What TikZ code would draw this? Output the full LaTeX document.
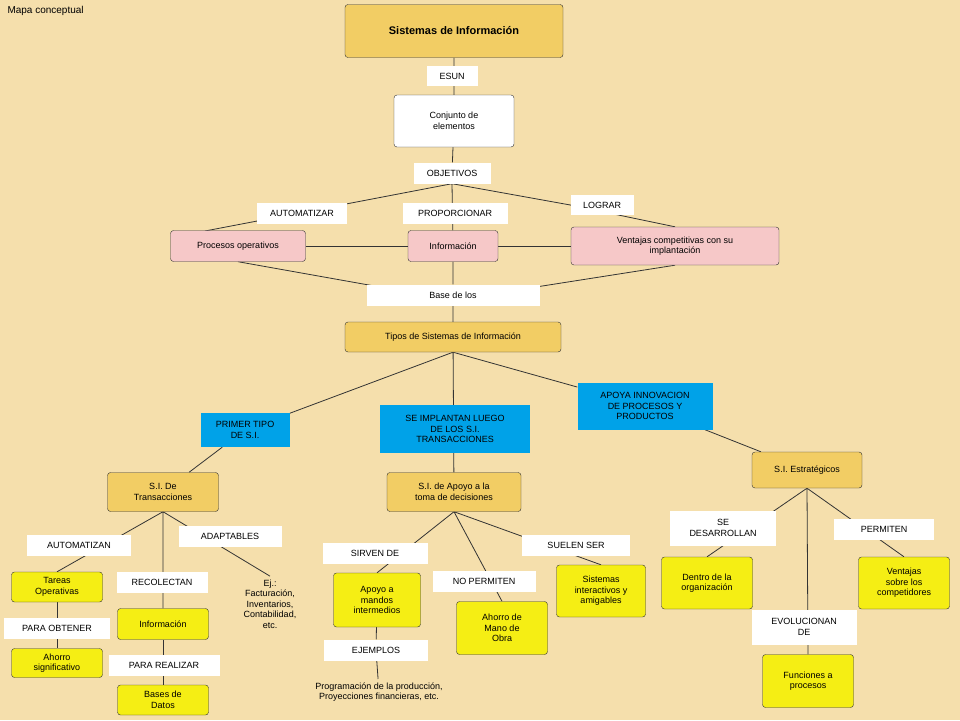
\documentclass[tikz,border=0pt]{standalone}
\usepackage{fontspec}
\setmainfont{Liberation Sans}
\pgfdeclarelayer{bg}\pgfsetlayers{bg,main}
\definecolor{bgc}{RGB}{245,223,172}
\definecolor{gold}{RGB}{242,205,100}
\definecolor{pinkc}{RGB}{246,200,200}
\definecolor{bluec}{RGB}{0,162,232}
\definecolor{yel}{RGB}{245,238,20}
\begin{document}
\begin{tikzpicture}[x=1pt,y=-1pt,font=\fontsize{9}{10.5}\selectfont,
 box/.style={draw=black!80,rounded corners=3pt,align=center,inner sep=2pt},
 g/.style={box,fill=gold},
 p/.style={box,fill=pinkc},
 yb/.style={box,fill=yel},
 w/.style={box,fill=white},
 lab/.style={fill=white,align=center,inner sep=1pt},
 bl/.style={fill=bluec,align=center,inner sep=1pt},
 ln/.style={draw=black!80,line width=0.8pt}]
\begin{pgfonlayer}{bg}
\fill[bgc] (0,0) rectangle (960,720);
\end{pgfonlayer}
\node[anchor=north west] (mc) at (4,3) {\fontsize{10}{12}\selectfont Mapa conceptual};
\node[g,minimum width=218,minimum height=53,font=\fontsize{11}{13}\selectfont\bfseries] (t) at (454,31) {Sistemas de Información};
\node[lab,minimum width=51,minimum height=20] (esun) at (452,76) {ESUN};
\node[w,minimum width=120,minimum height=52] (conj) at (454,121) {Conjunto de\\elementos};
\node[lab,minimum width=77,minimum height=21] (obj) at (452,173) {OBJETIVOS};
\node[p,minimum width=135,minimum height=31] (po) at (238,246) {Procesos operativos};
\node[p,minimum width=90,minimum height=31] (inf) at (453,246) {Información};
\node[p,minimum width=208,minimum height=38] (ven) at (675,246) {Ventajas competitivas con su\\implantación};
\node[lab,minimum width=173,minimum height=21] (base) at (453,295) {Base de los};
\node[g,minimum width=216,minimum height=30] (tipos) at (453,337) {Tipos de Sistemas de Información};
\node[g,minimum width=111,minimum height=39] (tr) at (163,492) {S.I. De\\Transacciones};
\node[g,minimum width=134,minimum height=39] (ap) at (454,492) {S.I. de Apoyo a la\\toma de decisiones};
\node[g,minimum width=110,minimum height=36] (es) at (807,470) {S.I. Estratégicos};
\node[yb,minimum width=91,minimum height=30] (tar) at (57,587) {Tareas\\Operativas};
\node[yb,minimum width=91,minimum height=29] (aho) at (57,663) {Ahorro\\significativo};
\node[yb,minimum width=91,minimum height=31] (inf2) at (163,624) {Información};
\node[yb,minimum width=91,minimum height=30] (bd) at (163,700) {Bases de\\Datos};
\node[align=center] (ej) at (270,604) {Ej.:\\Facturación,\\Inventarios,\\Contabilidad,\\etc.};
\node[yb,minimum width=87,minimum height=54] (man) at (377,600) {Apoyo a\\mandos\\intermedios};
\node[yb,minimum width=91,minimum height=53] (amo) at (502,628) {Ahorro de\\Mano de\\Obra};
\node[yb,minimum width=89,minimum height=52] (sis) at (601,591) {Sistemas\\interactivos y\\amigables};
\node[align=center] (prog) at (379,692) {Programación de la producción,\\Proyecciones financieras, etc.};
\node[yb,minimum width=91,minimum height=52] (den) at (707,583) {Dentro de la\\organización};
\node[yb,minimum width=91,minimum height=52] (vsc) at (904,583) {Ventajas\\sobre los\\competidores};
\node[yb,minimum width=91,minimum height=53] (fun) at (808,681) {Funciones a\\procesos};
% labels
\node[lab,minimum width=90,minimum height=21] (aut) at (302,213) {AUTOMATIZAR};
\node[lab,minimum width=105,minimum height=21] (prop) at (455,213) {PROPORCIONAR};
\node[lab,minimum width=63,minimum height=20] (log) at (602,205) {LOGRAR};
\node[bl,minimum width=89,minimum height=34] (pt) at (245,430) {PRIMER TIPO\\DE S.I.};
\node[bl,minimum width=150,minimum height=48] (si) at (455,429) {SE IMPLANTAN LUEGO\\DE LOS S.I.\\TRANSACCIONES};
\node[bl,minimum width=135,minimum height=47] (apy) at (645,406) {APOYA INNOVACION\\DE PROCESOS Y\\PRODUCTOS};
\node[lab,minimum width=104,minimum height=21] (autn) at (79,545) {AUTOMATIZAN};
\node[lab,minimum width=103,minimum height=21] (adap) at (230,536) {ADAPTABLES};
\node[lab,minimum width=91,minimum height=21] (rec) at (162,582) {RECOLECTAN};
\node[lab,minimum width=106,minimum height=21] (pob) at (57,628) {PARA OBTENER};
\node[lab,minimum width=111,minimum height=21] (prea) at (164,665) {PARA REALIZAR};
\node[lab,minimum width=105,minimum height=21] (sir) at (375,553) {SIRVEN DE};
\node[lab,minimum width=103,minimum height=21] (nop) at (484,581) {NO PERMITEN};
\node[lab,minimum width=108,minimum height=21] (sue) at (576,545) {SUELEN SER};
\node[lab,minimum width=104,minimum height=21] (ejm) at (376,650) {EJEMPLOS};
\node[lab,minimum width=106,minimum height=35] (sed) at (723,528) {SE\\DESARROLLAN};
\node[lab,minimum width=100,minimum height=21] (per) at (884,529) {PERMITEN};
\node[lab,minimum width=105,minimum height=35] (evo) at (804,627) {EVOLUCIONAN\\DE};
\coordinate (mid) at (453,300);
\coordinate (poj) at (205,231);
\begin{pgfonlayer}{bg}
\path[ln] (t)--(conj) (conj)--(obj);
\path[ln] (obj.south)--(poj) (obj.south)--(inf) (obj.south)--(log.west)--(ven.north);
\path[ln] (po)--(ven);
\path[ln] (po.south)--(mid) (inf)--(base) (ven.south)--(mid) (base)--(tipos);
\path[ln] (tipos.south)--(pt)--(tr) (tipos)--(ap) (tipos.south)--(apy)--(es);
\path[ln] (tr.south)--(tar.north) (tr)--(inf2) (tr.south)--(ej.north);
\path[ln] (tar)--(aho) (inf2)--(bd);
\path[ln] (ap.south)--(man.north) (ap.south)--(amo.north) (ap.south)--(sis.north);
\path[ln] (man)--(ejm)--(prog);
\path[ln] (es.south)--(den.north) (es.south)--(fun.north) (es.south)--(vsc.north);
\end{pgfonlayer}
\end{tikzpicture}
\end{document}
